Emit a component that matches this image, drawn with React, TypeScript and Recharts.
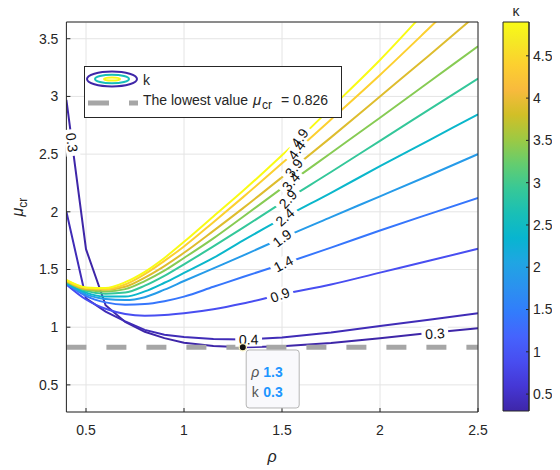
import React from "react";
import {
  LineChart,
  Line,
  XAxis,
  YAxis,
  CartesianGrid,
  ReferenceLine,
  ReferenceDot,
  Legend,
  Label,
  BarChart,
  Bar,
} from "recharts";

const FONT = '"Liberation Sans", Arial, Helvetica, sans-serif';
const INK = "#262626";

// rho grid (x) and the mu_cr value of every contour level on it
const rho = [0.4, 0.5, 0.6, 0.7, 0.8, 0.9, 1.0, 1.15, 1.3, 1.5, 1.75, 2.0, 2.25, 2.5];
const levels = [0.3, 0.4, 0.9, 1.4, 1.9, 2.4, 2.9, 3.4, 3.9, 4.4, 4.9];

const muK03 = [2.97, 1.676, 1.19, 1.045, 0.96, 0.905, 0.866, 0.838, 0.826, 0.835, 0.862, 0.905, 0.95, 0.99];
const muK04 = [2.0, 1.25, 1.135, 1.05, 0.977, 0.935, 0.915, 0.898, 0.893, 0.91, 0.955, 1.011, 1.065, 1.12];
const muK09 = [1.37, 1.24, 1.16, 1.115, 1.1, 1.105, 1.12, 1.155, 1.205, 1.285, 1.37, 1.473, 1.575, 1.68];
const muK14 = [1.375, 1.27, 1.215, 1.195, 1.2, 1.225, 1.265, 1.35, 1.435, 1.545, 1.69, 1.838, 1.98, 2.12];
const muK19 = [1.38, 1.285, 1.245, 1.235, 1.26, 1.325, 1.4, 1.51, 1.62, 1.772, 1.954, 2.134, 2.315, 2.5];
const muK24 = [1.385, 1.3, 1.265, 1.265, 1.31, 1.385, 1.47, 1.6, 1.75, 1.94, 2.165, 2.395, 2.62, 2.845];
const muK29 = [1.39, 1.315, 1.29, 1.3, 1.36, 1.445, 1.545, 1.7, 1.86, 2.08, 2.345, 2.615, 2.885, 3.155];
const muK34 = [1.395, 1.325, 1.31, 1.33, 1.4, 1.49, 1.6, 1.77, 1.955, 2.205, 2.51, 2.815, 3.125, 3.435];
const muK39 = [1.4, 1.33, 1.325, 1.35, 1.43, 1.53, 1.645, 1.835, 2.03, 2.3, 2.645, 3.0, 3.355, 3.717];
const muK44 = [1.405, 1.34, 1.33, 1.37, 1.46, 1.575, 1.7, 1.91, 2.125, 2.42, 2.8, 3.186, 3.59, 4.0];
const muK49 = [1.41, 1.345, 1.34, 1.39, 1.48, 1.6, 1.74, 1.96, 2.18, 2.49, 2.9, 3.316, 3.77, 4.23];

const contours = [muK03, muK04, muK09, muK14, muK19, muK24, muK29, muK34, muK39, muK44, muK49];

const xTicks = [0.5, 1, 1.5, 2, 2.5];
const yTicks = [0.5, 1, 1.5, 2, 2.5, 3, 3.5];
const cbTicks = [0.5, 1, 1.5, 2, 2.5, 3, 3.5, 4, 4.5];

// lowest value and its data tip
const lowestMu = 0.826;
const lowestRho = 1.3;
const lowestK = 0.3;

// inline contour labels (clabel)
const labelText = ["0.3", "0.3", "0.4", "0.9", "1.4", "1.9", "2.4", "2.9", "3.4", "3.9", "4.4", "4.9"];
const labelRho = [0.428, 2.28, 1.33, 1.49, 1.507, 1.5, 1.515, 1.53, 1.545, 1.56, 1.575, 1.59];
const labelMu = [2.6, 0.945, 0.893, 1.28, 1.55, 1.772, 1.955, 2.11, 2.26, 2.38, 2.535, 2.64];
const labelAngle = [83, -4, -1, -20, -28, -37, -42, -47, -50, -52, -54, -55];

// parula colormap (subset of the 64 entries)
const PARULA = [
  [62, 38, 168], [69, 55, 213], [72, 77, 240], [69, 99, 253], [50, 124, 252],
  [43, 145, 239], [32, 165, 227], [8, 181, 208], [25, 191, 182], [55, 200, 151],
  [100, 205, 111], [157, 201, 67], [209, 191, 39], [248, 186, 61], [252, 207, 48],
  [245, 233, 36], [249, 251, 21],
];
const PARULA_POS = [0, 4, 8, 12, 16, 20, 24, 28, 32, 36, 40, 44, 48, 52, 56, 60, 63].map((i) => i / 63);

const rgb = (c: number[]) => `rgb(${c.map((v) => Math.round(v)).join(",")})`;

function parula(t: number) {
  const u = Math.min(1, Math.max(0, t));
  let j = 0;
  while (j < PARULA_POS.length - 2 && u > PARULA_POS[j + 1]) j++;
  const f = (u - PARULA_POS[j]) / (PARULA_POS[j + 1] - PARULA_POS[j]);
  return rgb(PARULA[j].map((v, n) => v + f * (PARULA[j + 1][n] - v)));
}

const kMin = levels[0];
const kMax = levels[levels.length - 1];
const levelColor = (k: number) => parula((k - kMin) / (kMax - kMin));

const rows = rho.map((r, i) => {
  const row: Record<string, number> = { rho: r };
  contours.forEach((c, j) => {
    row["c" + j] = c[i];
  });
  return row;
});

const cbData = [{ name: "k", range: [kMin, kMax] }];

const RhoLabel = (props: any) => {
  const { x, y, width } = props.viewBox;
  return (
    <text x={x + width / 2} y={y + 50} textAnchor="middle" fontStyle="italic" fontSize={16} fill={INK} fontFamily={FONT}>
      ρ
    </text>
  );
};

const MuLabel = (props: any) => {
  const { x, y, height } = props.viewBox;
  const cx = x + 7;
  const cy = y + height / 2 - 10;
  return (
    <text x={cx} y={cy} transform={`rotate(-90 ${cx} ${cy})`} textAnchor="middle" fill={INK} fontFamily={FONT}>
      <tspan fontStyle="italic" fontSize={16}>μ</tspan>
      <tspan fontSize={12} dy={4}>cr</tspan>
    </text>
  );
};

const LegendBox = () => (
  <div style={{ width: 256, height: 50, border: `1px solid ${INK}`, background: "#fff" }}>
    <svg width={256} height={50} style={{ display: "block" }}>
      <ellipse cx={27} cy={12} rx={25} ry={7.5} fill="none" stroke={levelColor(kMin)} strokeWidth={2} />
      <ellipse cx={27} cy={12} rx={17} ry={4.2} fill="none" stroke={parula(0.5)} strokeWidth={2} />
      <ellipse cx={27} cy={12} rx={8} ry={1.6} fill="none" stroke={levelColor(kMax)} strokeWidth={2} />
      <text x={58} y={18} fontSize={14} fill={INK} fontFamily={FONT}>k</text>
      <line x1={3} x2={53} y1={36} y2={36} stroke="#a6a6a6" strokeWidth={5} strokeDasharray="21 20" />
      <text y={38} fontSize={14} fill={INK} fontFamily={FONT}>
        <tspan x={58}>The lowest value </tspan>
        <tspan x={168} fontStyle="italic" fontSize={15}>μ</tspan>
        <tspan x={177} fontSize={12} dy={4}>cr</tspan>
        <tspan x={196} dy={-4}>= {lowestMu}</tspan>
      </text>
    </svg>
  </div>
);

const labelBg = (i: number) => (p: any) => {
  const w = labelText[i].length * 7.6 + 4;
  return (
    <rect
      x={p.cx - w / 2}
      y={p.cy - 7}
      width={w}
      height={14}
      fill="#fff"
      transform={`rotate(${labelAngle[i]} ${p.cx} ${p.cy})`}
    />
  );
};

const labelTxt = (i: number) => (p: any) => (
  <text
    x={p.cx}
    y={p.cy}
    textAnchor="middle"
    dominantBaseline="central"
    fontSize={14}
    fill="#111"
    fontFamily={FONT}
    transform={`rotate(${labelAngle[i]} ${p.cx} ${p.cy})`}
  >
    {labelText[i]}
  </text>
);

const DataTip = (p: any) => {
  const { cx, cy } = p;
  const bx = cx + 3.4;
  const by = cy + 2.7;
  return (
    <g fontFamily={FONT} fontSize={14}>
      <rect x={bx} y={by} width={53} height={58} rx={3} fill="#f9f9fc" stroke="#b5b5b5" />
      <text x={cx + 8.5} y={cy + 30}>
        <tspan fill="#555" fontStyle="italic">ρ</tspan>
        <tspan x={cx + 20.5} fill="#1e96ff" fontWeight="bold">{lowestRho}</tspan>
      </text>
      <text x={cx + 9} y={cy + 50}>
        <tspan fill="#555">k</tspan>
        <tspan x={cx + 20.5} fill="#1e96ff" fontWeight="bold">{lowestK}</tspan>
      </text>
      <circle cx={cx} cy={cy} r={3.6} fill="#111" stroke="#fdf6c8" strokeWidth={1.2} />
    </g>
  );
};

export default function App() {
  return (
    <div style={{ position: "relative", width: 552, height: 462, fontFamily: FONT }}>
      <LineChart width={552} height={462} data={rows} margin={{ top: 13, right: 81, bottom: 28, left: 8 }}>
        <CartesianGrid stroke="#e4e4e4" />
        <XAxis
          dataKey="rho"
          type="number"
          domain={[0.4, 2.5]}
          ticks={xTicks}
          interval={0}
          allowDataOverflow
          height={30}
          tickSize={-4}
          tickMargin={17}
          stroke={INK}
          tick={{ fill: INK, fontSize: 14 }}
        >
          <Label content={RhoLabel} />
        </XAxis>
        <XAxis
          xAxisId="top"
          orientation="top"
          type="number"
          domain={[0.4, 2.5]}
          ticks={xTicks}
          interval={0}
          allowDataOverflow
          height={1}
          tickSize={-4}
          tick={false}
          stroke={INK}
        />
        <YAxis
          type="number"
          domain={[0.265, 3.645]}
          ticks={yTicks}
          interval={0}
          allowDataOverflow
          width={50.4}
          tickSize={-4}
          tickMargin={12}
          stroke={INK}
          tick={{ fill: INK, fontSize: 14 }}
        >
          <Label content={MuLabel} />
        </YAxis>
        <YAxis
          yAxisId="right"
          orientation="right"
          type="number"
          domain={[0.265, 3.645]}
          ticks={yTicks}
          interval={0}
          allowDataOverflow
          width={1}
          tickSize={-4}
          tick={false}
          stroke={INK}
        />
        {levels.map((k, j) => (
          <Line
            key={k}
            dataKey={"c" + j}
            type={j < 2 ? "linear" : "monotone"}
            stroke={levelColor(k)}
            strokeWidth={2}
            dot={false}
            activeDot={false}
            isAnimationActive={false}
          />
        ))}
        <ReferenceLine y={lowestMu} stroke="#a6a6a6" strokeWidth={5} strokeDasharray="20 20" />
        {labelText.map((_, i) => (
          <ReferenceDot key={"bg" + i} x={labelRho[i]} y={labelMu[i]} r={1} shape={labelBg(i)} />
        ))}
        {labelText.map((_, i) => (
          <ReferenceDot key={"tx" + i} x={labelRho[i]} y={labelMu[i]} r={1} shape={labelTxt(i)} />
        ))}
        <ReferenceDot x={lowestRho} y={lowestMu} r={3.6} shape={DataTip} />
        <Legend
          layout="horizontal"
          verticalAlign="middle"
          align="center"
          content={LegendBox}
          wrapperStyle={{ left: 76, top: 58, width: 258, height: 52 }}
        />
      </LineChart>

      <div style={{ position: "absolute", left: 487, top: 0 }}>
        <BarChart width={65} height={462} data={cbData} margin={{ top: 14, right: 0, bottom: 59, left: 8 }} barCategoryGap={0}>
          <defs>
            <linearGradient id="parulaGrad" x1="0" y1="1" x2="0" y2="0">
              {PARULA.map((c, i) => (
                <stop key={i} offset={PARULA_POS[i]} stopColor={rgb(c)} />
              ))}
            </linearGradient>
          </defs>
          <XAxis dataKey="name" hide />
          <YAxis
            orientation="right"
            type="number"
            domain={[kMin, kMax]}
            ticks={cbTicks}
            interval={0}
            width={31}
            tickSize={-3}
            tickMargin={7}
            stroke={INK}
            tick={{ fill: INK, fontSize: 14, textAnchor: "start" }}
          />
          <Bar dataKey="range" fill="url(#parulaGrad)" stroke={INK} strokeWidth={1} isAnimationActive={false} />
        </BarChart>
      </div>
      <div
        style={{
          position: "absolute",
          left: 498,
          top: -5,
          width: 20,
          textAlign: "center",
          fontSize: 14,
          lineHeight: "16px",
          color: INK,
        }}
      >
        k
      </div>
    </div>
  );
}
